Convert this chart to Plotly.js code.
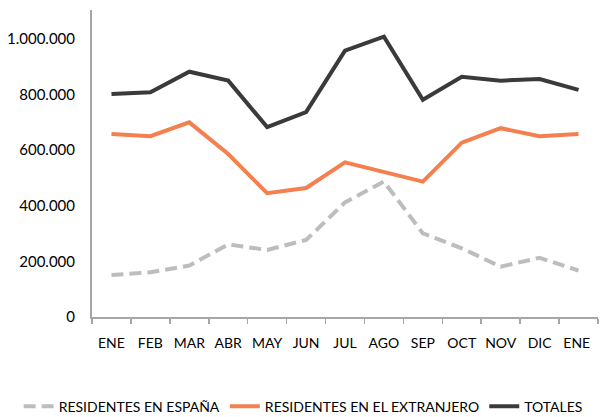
<!DOCTYPE html>
<html>
<head>
<meta charset="utf-8">
<script src="https://cdn.plot.ly/plotly-3.0.1.min.js"></script>
<style>html,body{margin:0;padding:0;background:#fff;}#chart{width:604px;height:417px;}</style>
</head>
<body>
<div id="chart"></div>
<script>
const months = ["ENE","FEB","MAR","ABR","MAY","JUN","JUL","AGO","SEP","OCT","NOV","DIC","ENE "];
const espana = [151000,161000,185000,261000,241000,277000,412000,487000,301000,247000,181000,213000,167000];
const extranjero = [658000,650000,700000,586000,445000,464000,556000,523000,487000,627000,679000,650000,658000];
const totales = [802000,808000,882000,850000,683000,737000,958000,1008000,781000,864000,850000,856000,817000];
const seriesNames = ["RESIDENTES EN ESPAÑA","RESIDENTES EN EL EXTRANJERO","TOTALES"];
const yTicks = [0,200000,400000,600000,800000,1000000];

const traces = [
  {x: months, y: espana, name: seriesNames[0], mode: "lines",
   line: {color: "#BDBDC0", width: 4, dash: "12px,6px"}},
  {x: months, y: extranjero, name: seriesNames[1], mode: "lines",
   line: {color: "#F4804F", width: 4}},
  {x: months, y: totales, name: seriesNames[2], mode: "lines",
   line: {color: "#3A3A3A", width: 4}}
];

const layout = {
  width: 604, height: 417,
  margin: {l: 92, r: 6, t: 10, b: 100, autoexpand: false},
  paper_bgcolor: "#fff", plot_bgcolor: "#fff",
  separators: ",.",
  font: {family: "Lato, 'Open Sans', sans-serif", size: 14, color: "#000"},
  showlegend: true,
  legend: {orientation: "h", x: -0.145, xanchor: "left", y: -0.24, yanchor: "top",
           font: {size: 14, color: "#000"}, itemwidth: 30, tracegroupgap: 0},
  xaxis: {type: "category", showgrid: false, zeroline: false, showline: true,
          linecolor: "#A6A6A6", linewidth: 2, ticks: "outside", tickson: "boundaries",
          ticklen: 5, tickcolor: "#A6A6A6", tickwidth: 1.5, ticklabelstandoff: 12,
          tickangle: 0, automargin: false,
          tickfont: {size: 14, color: "#000"}, range: [-0.5, 12.5], fixedrange: true},
  yaxis: {range: [0, 1104000], showgrid: false, zeroline: false, showline: true,
          linecolor: "#A6A6A6", linewidth: 2, ticks: "", tickvals: yTicks,
          tickformat: ",d", ticklabelstandoff: 12, automargin: false,
          tickfont: {size: 15, color: "#000"}, fixedrange: true}
};

Plotly.newPlot("chart", traces, layout, {displayModeBar: false, staticPlot: true});
</script>
</body>
</html>
